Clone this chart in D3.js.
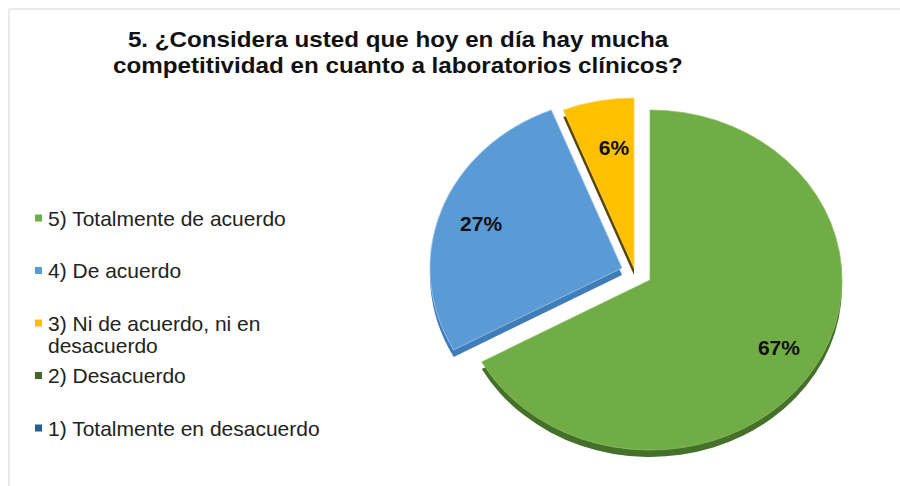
<!DOCTYPE html>
<html>
<head>
<meta charset="utf-8">
<script src="https://cdn.jsdelivr.net/npm/d3@7.9.0/dist/d3.min.js"></script>
<style>
  html, body { margin: 0; padding: 0; background: #fff; }
  svg { display: block; font-family: "Liberation Sans", Arial, sans-serif; }
</style>
</head>
<body>
<svg id="chart" width="900" height="486"></svg>
<script>
/* ---- data ---- */
const titleLines = [
  '5. ¿Considera usted que hoy en día hay mucha',
  'competitividad en cuanto a laboratorios clínicos?'
];
const categories = [
  '5) Totalmente de acuerdo',
  '4) De acuerdo',
  '3) Ni de acuerdo, ni en desacuerdo',
  '2) Desacuerdo',
  '1) Totalmente en desacuerdo'
];
const values = [67, 27, 6, 0, 0];

/* ---- style ---- */
const topColors  = ['#70ad47', '#5b9bd5', '#ffc000', '#43682b', '#255e91'];
const sideColors = ['#44702a', '#3f7cb8', '#5a4505', '#2c461c', '#173d60'];
const edgeColors = ['#8cc266', '#9cc6ec', '#ffd45a', '#5b8a3c', '#3b7ab4'];
const explode    = [[0, 0], [-28, -12], [-16, -12], [0, 0], [0, 0]];

const svg = d3.select('#chart');

/* chart frame (top + left edge only visible) */
svg.append('line').attr('x1', 9).attr('x2', 900).attr('y1', 9).attr('y2', 9)
  .attr('stroke', '#e4e4e4').attr('stroke-width', 1.5);
svg.append('line').attr('x1', 9).attr('x2', 9).attr('y1', 9).attr('y2', 486)
  .attr('stroke', '#e4e4e4').attr('stroke-width', 1.5);

/* title (slightly stretched like the source image) */
svg.append('g')
  .attr('transform', 'translate(398,0) scale(1.1,1)')
  .append('text')
  .attr('x', 0).attr('y', 47)
  .attr('text-anchor', 'middle')
  .attr('font-size', 22).attr('font-weight', 'bold').attr('fill', '#111')
  .selectAll('tspan')
  .data(titleLines)
  .join('tspan')
    .attr('x', 0)
    .attr('dy', (_, i) => i ? 26 : 0)
    .text(d => d);

/* ---- pie ---- */
const cx = 650, cy = 280, rx = 192, ry = 170, depth = 7;
const yScale = ry / rx;

const pie = d3.pie().sort(null).startAngle(0).endAngle(2 * Math.PI);
const arcs = pie(values).map((d, i) => ({ ...d, i }))
  .filter(d => d.value > 0);

const arcGen = d3.arc().innerRadius(0).outerRadius(rx);
const labelArc = d3.arc().innerRadius(rx * 0.78).outerRadius(rx * 0.78);

const pieG = svg.append('g');

/* sides (extrusion) first */
pieG.selectAll('path.side')
  .data(arcs)
  .join('path')
    .attr('class', 'side')
    .attr('transform', d =>
      `translate(${cx + explode[d.i][0]},${cy + explode[d.i][1] + depth}) scale(1,${yScale})`)
    .attr('d', arcGen)
    .attr('fill', d => sideColors[d.i]);

/* top faces */
pieG.selectAll('path.top')
  .data(arcs)
  .join('path')
    .attr('class', 'top')
    .attr('transform', d =>
      `translate(${cx + explode[d.i][0]},${cy + explode[d.i][1]}) scale(1,${yScale})`)
    .attr('d', arcGen)
    .attr('fill', d => topColors[d.i])
    .attr('stroke', d => edgeColors[d.i])
    .attr('stroke-width', 0.8)
    .attr('vector-effect', 'non-scaling-stroke');

/* data labels */
const total = d3.sum(values);
pieG.selectAll('text.lbl')
  .data(arcs)
  .join('text')
    .attr('class', 'lbl')
    .attr('x', d => cx + explode[d.i][0] + labelArc.centroid(d)[0] + (d.i === 2 ? 8 : 0))
    .attr('y', d => cy + explode[d.i][1] + labelArc.centroid(d)[1] * yScale + (d.i === 2 ? 10 : 0))
    .attr('dy', '0.36em')
    .attr('text-anchor', 'middle')
    .attr('font-size', 21).attr('font-weight', 'bold').attr('fill', '#111')
    .text(d => Math.round(d.value / total * 100) + '%');

/* ---- legend ---- */
const legendX = 35, legendY = 218, legendStep = 52.5, lineH = 22, maxW = 300;
const legend = svg.append('g');
let y = legendY;
categories.forEach((name, i) => {
  const g = legend.append('g');
  g.append('rect')
    .attr('x', legendX).attr('y', y - 3.5)
    .attr('width', 7).attr('height', 7)
    .attr('fill', topColors[i]);
  const t = g.append('text')
    .attr('x', legendX + 13).attr('y', y)
    .attr('dy', '0.36em')
    .attr('font-size', 21).attr('fill', '#222');
  // simple word wrap
  const words = name.split(' ');
  let line = [], tspan = t.append('tspan').attr('x', legendX + 13);
  words.forEach(w => {
    line.push(w);
    tspan.text(line.join(' '));
    if (tspan.node().getComputedTextLength() > maxW && line.length > 1) {
      line.pop();
      tspan.text(line.join(' '));
      line = [w];
      tspan = t.append('tspan').attr('x', legendX + 13).attr('dy', lineH).text(w);
    }
  });
  y += legendStep;
});
</script>
</body>
</html>
